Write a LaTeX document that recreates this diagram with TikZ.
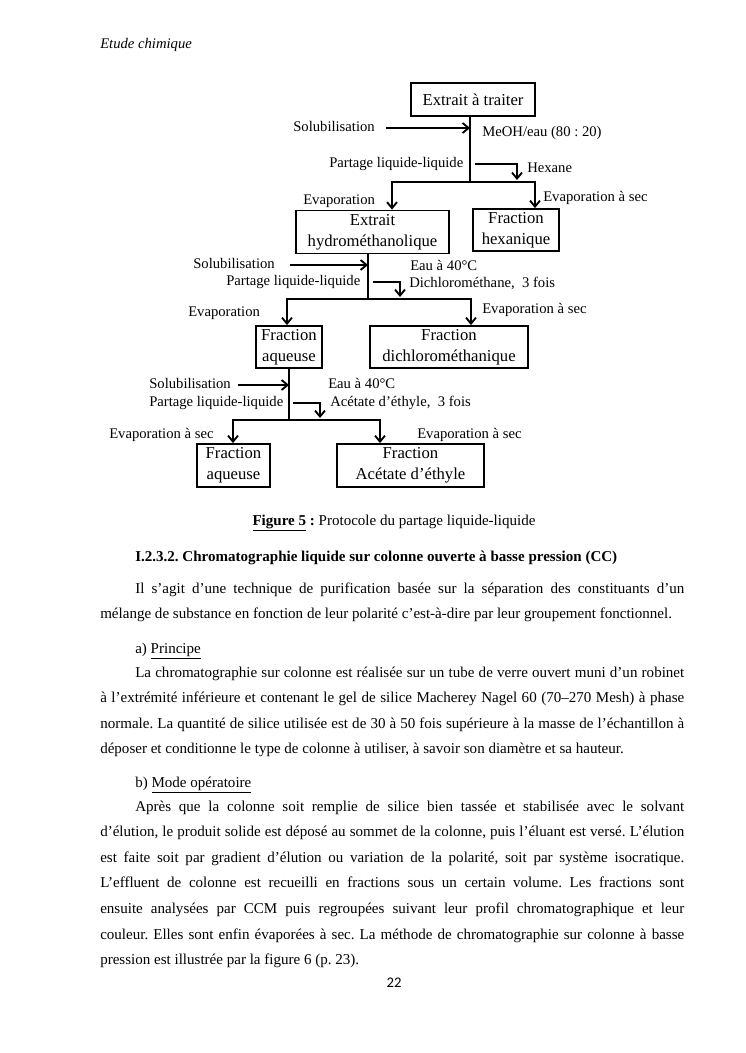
\documentclass[tikz,border=0pt]{standalone}
\usepackage{fontspec}
\setmainfont{Liberation Serif}
\newfontfamily\calibri{Carlito}
\usetikzlibrary{arrows.meta}
\frenchspacing

\begin{document}
\begin{tikzpicture}[x=0.75pt, y=-0.75pt,
    boite/.style={draw, line width=1.4pt, align=center, inner sep=0pt, font=\fontsize{12.5}{15.5}\selectfont},
    etiq/.style={anchor=west, inner sep=0pt, text height=0.7em, text depth=0.2em, font=\fontsize{11}{13}\selectfont},
    trait/.style={line width=1.4pt, line join=miter},
    fleche/.style={trait, -{Straight Barb[length=4.5pt, width=7.5pt]}},
    fleches/.style={trait, {Straight Barb[length=4.5pt, width=7.5pt]}-{Straight Barb[length=4.5pt, width=7.5pt]}},
    ligne/.style={anchor=base west, inner sep=0pt, font=\fontsize{11.28}{14}\selectfont},
    texte/.style={anchor=base west, inner sep=0pt, text width=438pt, align=justify, font=\fontsize{11.28}{19.2}\selectfont,
        execute at begin node={\frenchspacing\hyphenpenalty=10000\relax\tolerance=9999\relax}}]
    \path[fill=white, use as bounding box] (0,0) rectangle (746,1053);

    % Boites
    \node[boite, minimum width=93pt, minimum height=24.75pt] (extrait) at (473,99.5) {Extrait à traiter};
    \node[boite, minimum width=114.75pt, minimum height=32.25pt] (hydro) at (372.5,232) {Extrait\\hydrométhanolique};
    \node[boite, minimum width=64.5pt, minimum height=31.5pt] (hexa) at (516,230) {Fraction\\hexanique};
    \node[boite, minimum width=49.5pt, minimum height=31.5pt] (aqueuse) at (289,347) {Fraction\\aqueuse};
    \node[boite, minimum width=118.5pt, minimum height=31.5pt] (dichloro) at (449,347) {Fraction\\dichlorométhanique};
    \node[boite, minimum width=54.75pt, minimum height=32.25pt] (aqueuseb) at (233.5,465.5) {Fraction\\aqueuse};
    \node[boite, minimum width=110.25pt, minimum height=32.25pt] (acetate) at (410.5,465.5) {Fraction\\Acétate d’éthyle};

    % Etiquettes
    \node[etiq] (solA) at (293,128) {Solubilisation};
    \node[etiq] (meoh) at (482,133) {MeOH/eau (80 : 20)};
    \node[etiq] (partA) at (329,164) {Partage liquide-liquide};
    \node[etiq] (hexane) at (527,169) {Hexane};
    \node[etiq] (evapA) at (303,201) {Evaporation};
    \node[etiq] (evapsecA) at (543,198) {Evaporation à sec};

    \node[etiq] (solB) at (193,265) {Solubilisation};
    \node[etiq] (partB) at (226,282) {Partage liquide-liquide};
    \node[etiq] (eauB) at (410,267) {Eau à 40°C};
    \node[etiq] (dichlo) at (409,284) {Dichlorométhane,\ \ 3 fois};
    \node[etiq] (evapB) at (188,313) {Evaporation};
    \node[etiq] (evapsecB) at (482,310) {Evaporation à sec};

    \node[etiq] (solC) at (149,385) {Solubilisation};
    \node[etiq] (partC) at (149,403) {Partage liquide-liquide};
    \node[etiq] (eauC) at (328,385) {Eau à 40°C};
    \node[etiq] (acet) at (330,403) {Acétate d’éthyle,\ \ 3 fois};
    \node[etiq] (evapsecC) at (109,435) {Evaporation à sec};
    \node[etiq] (evapsecD) at (417,435) {Evaporation à sec};

    % Connexions niveau 1
    \coordinate (brA) at (470,182);
    \coordinate (gA) at (392,182);
    \coordinate (dA) at (535,182);
    \coordinate (hA) at (517,180);
    \draw[trait] (extrait.south -| brA) -- (brA);
    \draw[fleches] (gA |- hydro.north) -- (gA) -- (dA) -- (dA |- hexa.north);
    \draw[fleche] ([xshift=8pt]solA.east) -- (solA.east -| brA);
    \draw[fleche] (partA.east -| brA) ++(5,0) -| (hA);

    % Connexions niveau 2
    \coordinate (brB) at (368,299);
    \coordinate (gB) at (287,299);
    \coordinate (dB) at (471,299);
    \coordinate (hB) at (400,297);
    \draw[trait] (hydro.south -| brB) -- (brB);
    \draw[fleches] (gB |- aqueuse.north) -- (gB) -- (dB) -- (dB |- dichloro.north);
    \draw[fleche] ([xshift=11pt]solB.east) -- (solB.east -| brB);
    \draw[fleche] (partB.east -| brB) ++(5,0) -| (hB);

    % Connexions niveau 3
    \coordinate (brC) at (289,420);
    \coordinate (gC) at (233,420);
    \coordinate (dC) at (380,420);
    \coordinate (hC) at (320,418);
    \draw[trait] (aqueuse.south -| brC) -- (brC);
    \draw[fleches] (gC |- aqueuseb.north) -- (gC) -- (dC) -- (dC |- acetate.north);
    \draw[fleche] ([xshift=5pt]solC.east) -- (solC.east -| brC);
    \draw[fleche] (partC.east -| brC) ++(4,0) -| (hC);

    % Texte de la page
    \node[ligne, font=\fontsize{11}{13}\selectfont\itshape] (entete) at (100,48) {Etude chimique};
    \node[ligne, anchor=base] (legende) at (394,525) {\underline{\textbf{Figure 5}}\textbf{ :} Protocole du partage liquide-liquide};
    \node[ligne, font=\fontsize{11.28}{14}\selectfont\bfseries] (titre) at (135,561) {I.2.3.2. Chromatographie liquide sur colonne ouverte à basse pression (CC)};
    \node[texte] (parA) at (100,593) {\hspace*{26.25pt}Il s’agit d’une technique de purification basée sur la séparation des constituants d’un\linebreak
        mélange de substance en fonction de leur polarité c’est-à-dire par leur groupement fonctionnel.};
    \node[ligne] (principe) at (135,653) {a) \underline{Principe}};
    \node[texte] (parB) at (100,677) {\hspace*{26.25pt}La chromatographie sur colonne est réalisée sur un tube de verre ouvert muni d’un robinet\linebreak
        à l’extrémité inférieure et contenant le gel de silice Macherey Nagel 60 (70–270 Mesh) à phase\linebreak
        normale. La quantité de silice utilisée est de 30 à 50 fois supérieure à la masse de l’échantillon à\linebreak
        déposer et conditionne le type de colonne à utiliser, à savoir son diamètre et sa hauteur.};
    \node[ligne] (mode) at (135,787) {b) \underline{Mode opératoire}};
    \node[texte] (parC) at (100,811) {\hspace*{26.25pt}Après que la colonne soit remplie de silice bien tassée et stabilisée avec le solvant\linebreak
        d’élution, le produit solide est déposé au sommet de la colonne, puis l’éluant est versé. L’élution\linebreak
        est faite soit par gradient d’élution ou variation de la polarité, soit par système isocratique.\linebreak
        L’effluent de colonne est recueilli en fractions sous un certain volume. Les fractions sont\linebreak
        ensuite analysées par CCM puis regroupées suivant leur profil chromatographique et leur\linebreak
        couleur. Elles sont enfin évaporées à sec. La méthode de chromatographie sur colonne à basse\linebreak
        pression est illustrée par la figure 6 (p. 23).};
    \node[ligne, anchor=base, font=\calibri\fontsize{11}{13}\selectfont] (page) at (394,987) {22};
\end{tikzpicture}
\end{document}
